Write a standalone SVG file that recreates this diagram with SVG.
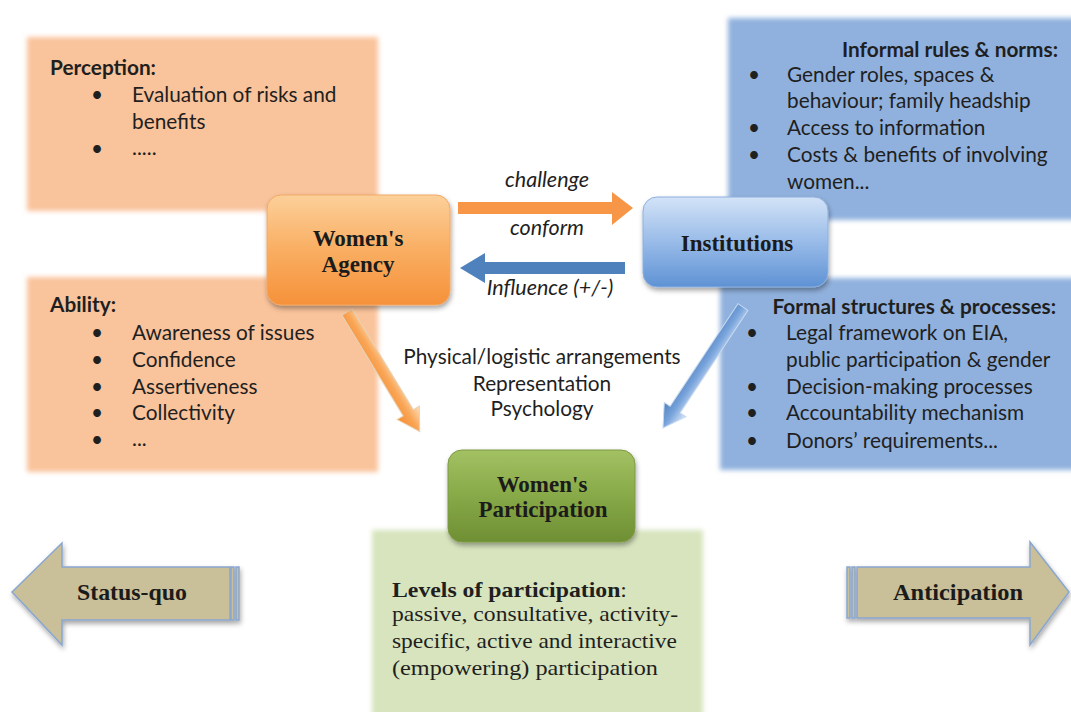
<svg xmlns="http://www.w3.org/2000/svg" width="1071" height="712" viewBox="0 0 1071 712">
<defs>
<style>
.t{font-family:Lato,"Liberation Sans","DejaVu Sans",sans-serif;font-size:20.8px;fill:#1f1f1f}
.b{font-weight:bold}
.i{font-style:italic;font-size:21.5px}
.n{font-family:"Liberation Serif","DejaVu Serif",serif;font-weight:bold;font-size:23px;fill:#1b1b1b;text-anchor:middle}
.s{font-family:"Liberation Serif","DejaVu Serif",serif;font-size:22px;fill:#1f1f1f}
.c{text-anchor:middle}
.e{text-anchor:end}
.soft{filter:url(#soft)}
.big{fill:#c9bf98;stroke:#8aa7cf;stroke-width:1.5}
</style>
<filter id="soft" x="-5%" y="-5%" width="110%" height="110%"><feGaussianBlur stdDeviation="2.5"/></filter>
<filter id="sh" x="-10%" y="-10%" width="125%" height="130%"><feDropShadow dx="1" dy="3" stdDeviation="2.5" flood-color="#000" flood-opacity="0.35"/></filter>
<linearGradient id="gO" x1="0" y1="0" x2="0" y2="1"><stop offset="0" stop-color="#fcd09a"/><stop offset="0.5" stop-color="#f9ae62"/><stop offset="1" stop-color="#f6913a"/></linearGradient>
<linearGradient id="gB" x1="0" y1="0" x2="0" y2="1"><stop offset="0" stop-color="#d3e3f7"/><stop offset="0.5" stop-color="#98bbe8"/><stop offset="1" stop-color="#5f92d4"/></linearGradient>
<linearGradient id="gG" x1="0" y1="0" x2="0" y2="1"><stop offset="0" stop-color="#a3c163"/><stop offset="0.5" stop-color="#87a947"/><stop offset="1" stop-color="#6f8f34"/></linearGradient>
<linearGradient id="gDO" x1="0" y1="0" x2="0" y2="1"><stop offset="0" stop-color="#fde0bd"/><stop offset="0.5" stop-color="#f9a657"/><stop offset="1" stop-color="#f48d33"/></linearGradient>
<linearGradient id="gDB" x1="0" y1="0" x2="0" y2="1"><stop offset="0" stop-color="#d7e6f8"/><stop offset="0.5" stop-color="#79a4dc"/><stop offset="1" stop-color="#4f81bd"/></linearGradient>
</defs>
<rect width="1071" height="712" fill="#ffffff"/>

<g id="perception">
<rect class="soft" x="27" y="37" width="351" height="174" fill="#f9c39b"/>
<text class="t b" x="50" y="75">Perception:</text>
<text class="t" x="91" y="102">•</text><text class="t" x="132" y="102">Evaluation of risks and</text>
<text class="t" x="132" y="129">benefits</text>
<text class="t" x="91" y="156">•</text><text class="t" x="132" y="155">.....</text>
</g>

<g id="ability">
<rect class="soft" x="27" y="277" width="351" height="195" fill="#f9c39b"/>
<text class="t b" x="50" y="312">Ability:</text>
<text class="t" x="91" y="340">•</text><text class="t" x="132" y="340">Awareness of issues</text>
<text class="t" x="91" y="367">•</text><text class="t" x="132" y="367">Confidence</text>
<text class="t" x="91" y="394">•</text><text class="t" x="132" y="394">Assertiveness</text>
<text class="t" x="91" y="420">•</text><text class="t" x="132" y="420">Collectivity</text>
<text class="t" x="91" y="447">•</text><text class="t" x="132" y="446">...</text>
</g>

<g id="informal">
<rect class="soft" x="728" y="18" width="350" height="202" fill="#90b1dd"/>
<text class="t b e" x="1058" y="57">Informal rules &amp; norms:</text>
<text class="t" x="748" y="82">•</text><text class="t" x="787" y="82">Gender roles, spaces &amp;</text>
<text class="t" x="787" y="108">behaviour; family headship</text>
<text class="t" x="748" y="135">•</text><text class="t" x="787" y="135">Access to information</text>
<text class="t" x="748" y="162">•</text><text class="t" x="787" y="162">Costs &amp; benefits of involving</text>
<text class="t" x="787" y="189">women...</text>
</g>

<g id="formal">
<rect class="soft" x="720" y="278" width="358" height="192" fill="#90b1dd"/>
<text class="t b e" x="1056" y="314">Formal structures &amp; processes:</text>
<text class="t" x="746" y="340">•</text><text class="t" x="786" y="340">Legal framework on EIA,</text>
<text class="t" x="786" y="367">public participation &amp; gender</text>
<text class="t" x="746" y="394">•</text><text class="t" x="786" y="394">Decision-making processes</text>
<text class="t" x="746" y="420">•</text><text class="t" x="786" y="420">Accountability mechanism</text>
<text class="t" x="746" y="448">•</text><text class="t" x="786" y="448">Donors’ requirements...</text>
</g>

<g id="levels">
<rect class="soft" x="372" y="530" width="331" height="190" fill="#d7e4bd"/>
<text class="s" x="392" y="597" textLength="235" lengthAdjust="spacingAndGlyphs"><tspan font-weight="bold">Levels of participation</tspan>:</text>
<text class="s" x="392" y="621" textLength="286" lengthAdjust="spacingAndGlyphs">passive, consultative, activity-</text>
<text class="s" x="392" y="648" textLength="285" lengthAdjust="spacingAndGlyphs">specific, active and interactive</text>
<text class="s" x="392" y="675" textLength="266" lengthAdjust="spacingAndGlyphs">(empowering) participation</text>
</g>

<g id="connectors">
<polygon points="458,202 612,202 612,192 633,208 612,225 612,214 458,214" fill="#f79646"/>
<polygon points="625,262 485,262 485,253 460,268 485,283 485,274 625,274" fill="#4f81bd"/>
<g transform="translate(347,312) rotate(58.7)">
<polygon points="0,-6 118,-6 118,-13 140,0 118,13 118,6 0,6" fill="url(#gDO)" stroke="#e9d2b4" stroke-width="1"/>
</g>
<g transform="translate(743,307) rotate(123.5)">
<polygon points="0,-6 123,-6 123,-13 145,0 123,13 123,6 0,6" fill="url(#gDB)" stroke="#c9daf0" stroke-width="1"/>
</g>
<text class="t i c" x="547" y="187">challenge</text>
<text class="t i c" x="547" y="235">conform</text>
<text class="t i c" x="550" y="295">Influence (+/-)</text>
<text class="t c" x="542" y="364">Physical/logistic arrangements</text>
<text class="t c" x="542" y="391">Representation</text>
<text class="t c" x="542" y="416">Psychology</text>
</g>

<g id="agency">
<rect x="267" y="195" width="183" height="110" rx="14" fill="url(#gO)" stroke="#f2a866" stroke-width="1" filter="url(#sh)"/>
<text class="n" x="358" y="246">Women's</text>
<text class="n" x="358" y="272">Agency</text>
</g>

<g id="institutions">
<rect x="643" y="197" width="185" height="90" rx="14" fill="url(#gB)" stroke="#8db0e0" stroke-width="1" filter="url(#sh)"/>
<text class="n" x="737" y="251">Institutions</text>
</g>

<g id="participation">
<rect x="448" y="450" width="187" height="92" rx="14" fill="url(#gG)" stroke="#7d9a44" stroke-width="1" filter="url(#sh)"/>
<text class="n" x="542" y="492" fill="#1a2410">Women's</text>
<text class="n" x="543" y="517" fill="#1a2410">Participation</text>
</g>

<g id="statusquo">
<g filter="url(#sh)">
<polygon class="big" points="12,592 62,543 62,567 230,567 230,620 62,620 62,645"/>
<rect class="big" x="231" y="567" width="3" height="53"/>
<rect class="big" x="236" y="567" width="3" height="53"/>
</g>
<text class="n" x="132" y="600" textLength="110" lengthAdjust="spacingAndGlyphs">Status-quo</text>
</g>

<g id="anticipation">
<g filter="url(#sh)">
<rect class="big" x="847" y="567" width="3" height="51"/>
<rect class="big" x="852" y="567" width="3" height="51"/>
<polygon class="big" points="857,567 1030,567 1030,542 1069,592 1030,645 1030,618 857,618"/>
</g>
<text class="n" x="958" y="600" textLength="130" lengthAdjust="spacingAndGlyphs">Anticipation</text>
</g>
</svg>
